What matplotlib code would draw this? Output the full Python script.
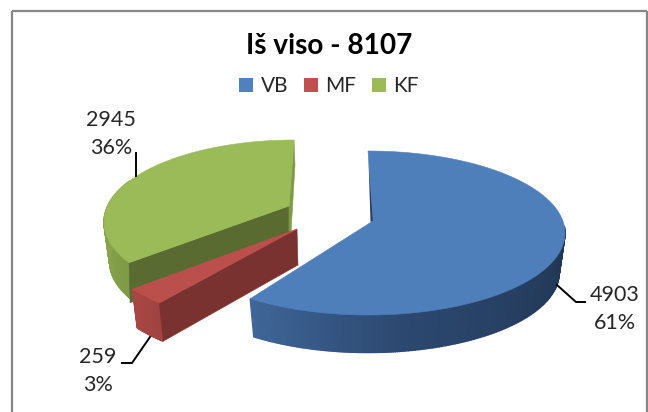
import numpy as np
import matplotlib
matplotlib.use('Agg')
import matplotlib.pyplot as plt
from matplotlib.patches import Polygon, Patch
from matplotlib.colors import to_rgb

# Data
title = 'Iš viso - 8107'
names = ['VB', 'MF', 'KF']
values = [4903, 259, 2945]
percents = ['61%', '3%', '36%']

plt.rcParams['font.family'] = ['Lato', 'DejaVu Sans']

fig = plt.figure(figsize=(6.48, 4.12), dpi=100)
ax = fig.add_axes([0, 0, 1, 1])
ax.set_xlim(0, 648)
ax.set_ylim(412, 0)
ax.axis('off')

# chart frame, cut off at the bottom
ax.plot([12, 12], [420, 11], color='#868686', lw=1.6, solid_capstyle='butt')
ax.plot([12, 647], [11, 11], color='#868686', lw=1.6, solid_capstyle='butt')
ax.plot([647, 647], [11, 420], color='#868686', lw=1.6, solid_capstyle='butt')

ax.text(329.5, 46, title, ha='center', va='center', fontsize=20.2, fontweight='bold', color='black')

# slice angles, clockwise from 12 o'clock
total = sum(values)
edges = np.concatenate([[0], np.cumsum(values)]) / total * 360
depth = 40


def rim(s, th, bottom=False):
    t = np.radians(th)
    k, d = (0.97, depth) if bottom else (1, 0)
    return np.column_stack([s['cx'] + s['rx'] * k * np.sin(t),
                            s['cy'] + d - s['ry'] * k * np.cos(t)])


def mix(a, b, f):
    a, b = np.array(to_rgb(a)), np.array(to_rgb(b))
    return tuple(a + (b - a) * f)


def wall(s, th0, th1, c0, c1, z):
    ths = np.linspace(th0, th1, 80)
    top, bot = rim(s, ths), rim(s, ths, True)
    for i in range(len(ths) - 1):
        col = mix(c0, c1, i / (len(ths) - 2))
        ax.add_patch(Polygon([top[i], top[i + 1], bot[i + 1], bot[i]], fc=col, ec=col, lw=1, zorder=z))


def top_face(s, th0, th1, col, z):
    pts = rim(s, np.linspace(th0, th1, 200))
    ax.add_patch(Polygon(np.vstack([s['apex'], pts]), fc=col, ec=col, lw=0.4, zorder=z))


# layout of each exploded slice on the page
vb = dict(cx=368, cy=233, rx=197, ry=82, apex=(373, 221))
mf = dict(cx=292, cy=243, rx=192, ry=83, apex=(297, 229))
kf = dict(cx=294, cy=222, rx=190, ry=82, apex=(289, 206))

# KF, back
start, end = edges[2] + 11, edges[3]
wall(kf, start, 300, '#7f9a46', '#8fac50', 1)
a = rim(kf, start)[0]
ax.add_patch(Polygon([a, kf['apex'], np.add(kf['apex'], (0, depth)), a + (1, depth)],
                     fc='#5a6b32', ec='#5a6b32', lw=0.4, zorder=2))
r = rim(kf, end)[0]
ax.add_patch(Polygon([r, r + (1, 25), np.add(kf['apex'], (2, 26)), np.add(kf['apex'], (0, 26)), kf['apex']],
                     fc='#7f9a47', ec='#7f9a47', lw=0.4, zorder=2))
top_face(kf, start, end, '#9bbb59', 3)

# MF
start, end = edges[1] + 6, edges[2] + 7
wall(mf, start, end, '#a04441', '#a84643', 4)
b = rim(mf, start)[0]
ax.add_patch(Polygon([b, mf['apex'], np.add(mf['apex'], (1, 36)), rim(mf, start, True)[0]],
                     fc='#7a3230', ec='#7a3230', lw=0.4, zorder=5))
top_face(mf, start, end, '#bb4f4b', 6)

# VB, front
start, end = edges[0], edges[1] - 1
wall(vb, 170, end, '#2c4870', '#3f6698', 7)
wall(vb, 85, 170, '#1f3450', '#2c4870', 7)
top_face(vb, start, end, '#4e7fba', 8)
ax.add_patch(Polygon([(368.5, 160), (370.5, 222), (373, 221)], fc='#2a4060', ec='none', zorder=9))

# legend
handles = [Patch(fc=c) for c in ['#4f81bd', '#c0504d', '#9bbb59']]
ax.legend(handles, names, loc='center', bbox_to_anchor=(329 / 648, 1 - 86.5 / 412), ncol=3, frameon=False,
          fontsize=15, handlelength=0.67, handleheight=0.67, handletextpad=0.36, columnspacing=0.75,
          labelcolor='#262626', borderpad=0)

# data labels
label_pos = [(615, 295), (98, 357), (111, 120)]
for (x, y), v, p in zip(label_pos, values, percents):
    ax.text(x, y, str(v), ha='center', va='center', fontsize=15.5, color='#262626')
    ax.text(x, y + 28, p, ha='center', va='center', fontsize=15.5, color='#262626')

# leader lines
leaders = [([557, 576, 585], [285, 302, 302]),
           ([150, 132, 122], [337, 363, 363]),
           ([136, 136], [176, 153])]
for lx, ly in leaders:
    ax.plot(lx, ly, color='black', lw=1.4, zorder=9)

fig.savefig('out.png', dpi=100)
